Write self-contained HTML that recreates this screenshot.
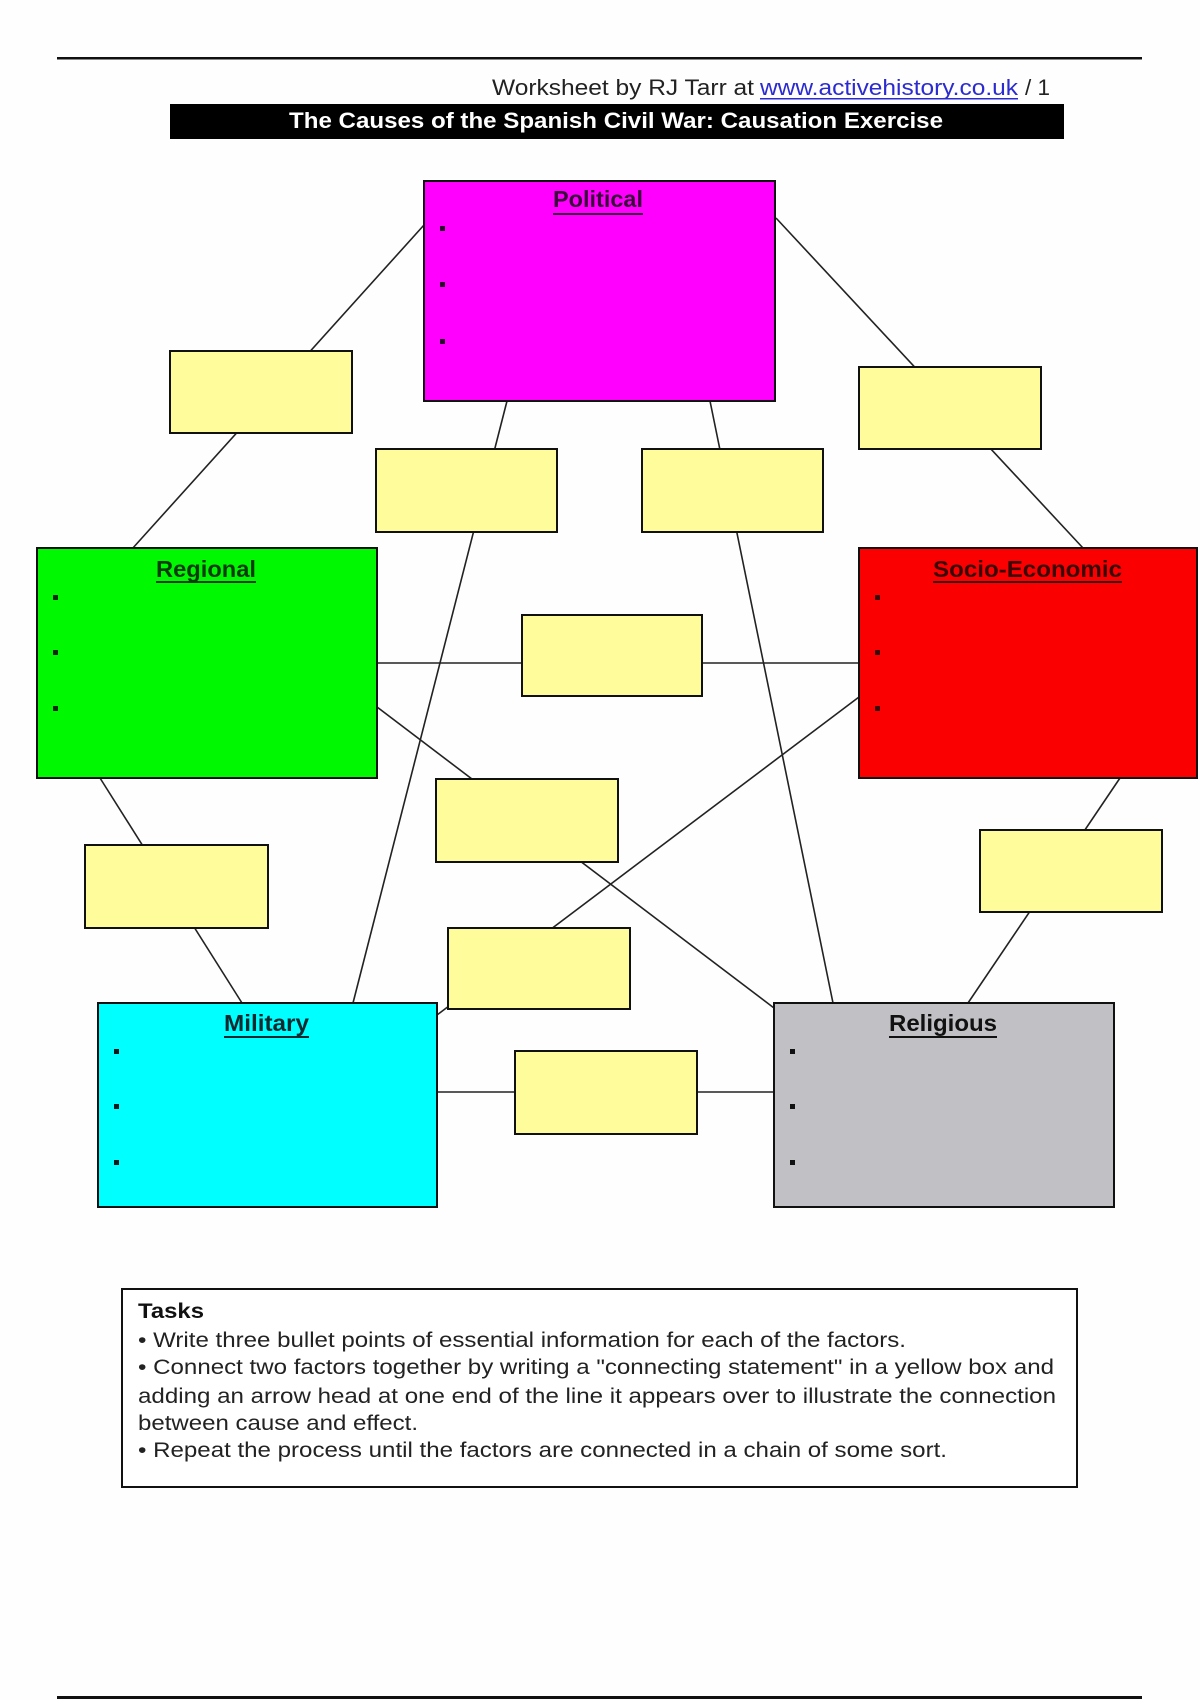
<!DOCTYPE html>
<html>
<head>
<meta charset="utf-8">
<style>
html,body{margin:0;padding:0;background:#fff;}
body{width:1200px;height:1700px;overflow:hidden;}
svg{display:block;}
text{font-family:"Liberation Sans",Arial,sans-serif;}
</style>
</head>
<body>
<svg width="1200" height="1700" viewBox="0 0 1200 1700" xmlns="http://www.w3.org/2000/svg">
<rect x="0" y="0" width="1200" height="1700" fill="#fefefe"/>
<!-- top and bottom rules -->
<rect x="57" y="57" width="1085" height="2.5" fill="#111"/>
<rect x="57" y="1696" width="1085" height="3" fill="#111"/>

<!-- header -->
<text x="492" y="95" font-size="22" fill="#222" textLength="262" lengthAdjust="spacingAndGlyphs">Worksheet by RJ Tarr at</text>
<text x="760" y="95" font-size="22" fill="#2b2bcf" textLength="258" lengthAdjust="spacingAndGlyphs">www.activehistory.co.uk</text>
<rect x="760" y="98" width="258" height="1.5" fill="#2b2bcf"/>
<text x="1025" y="95" font-size="22" fill="#222" textLength="25" lengthAdjust="spacingAndGlyphs">/ 1</text>

<rect x="170" y="104" width="894" height="35" fill="#000"/>
<text x="289" y="128" font-size="22" font-weight="bold" fill="#fff" textLength="654" lengthAdjust="spacingAndGlyphs">The Causes of the Spanish Civil War: Causation Exercise</text>

<!-- connector lines -->
<g stroke="#222" stroke-width="1.6" fill="none">
<line x1="424" y1="225" x2="132" y2="549"/>
<line x1="776" y1="218" x2="1083" y2="548"/>
<line x1="507" y1="401" x2="353" y2="1003"/>
<line x1="710" y1="401" x2="833" y2="1003"/>
<line x1="377" y1="663" x2="859" y2="663"/>
<line x1="377" y1="707" x2="774" y2="1008"/>
<line x1="859" y1="697" x2="437" y2="1015"/>
<line x1="100" y1="778" x2="242" y2="1003"/>
<line x1="1120" y1="778" x2="968" y2="1003"/>
<line x1="437" y1="1092" x2="774" y2="1092"/>
</g>

<!-- factor boxes -->
<g stroke="#111" stroke-width="2">
<rect x="424" y="181" width="351" height="220" fill="#ff00ff"/>
<rect x="37" y="548" width="340" height="230" fill="#00f800"/>
<rect x="859" y="548" width="338" height="230" fill="#fa0000"/>
<rect x="98" y="1003" width="339" height="204" fill="#00ffff"/>
<rect x="774" y="1003" width="340" height="204" fill="#c1c0c4"/>
</g>

<!-- yellow boxes -->
<g stroke="#111" stroke-width="2" fill="#fffd9b">
<rect x="170" y="351" width="182" height="82"/>
<rect x="376" y="449" width="181" height="83"/>
<rect x="642" y="449" width="181" height="83"/>
<rect x="859" y="367" width="182" height="82"/>
<rect x="522" y="615" width="180" height="81"/>
<rect x="436" y="779" width="182" height="83"/>
<rect x="85" y="845" width="183" height="83"/>
<rect x="980" y="830" width="182" height="82"/>
<rect x="448" y="928" width="182" height="81"/>
<rect x="515" y="1051" width="182" height="83"/>
</g>

<!-- titles -->
<g font-size="23" font-weight="bold">
<text x="553" y="207" fill="#3a0a3a" textLength="90" lengthAdjust="spacingAndGlyphs">Political</text>
<rect x="553" y="213" width="90" height="2" fill="#3a0a3a"/>
<text x="156" y="577" fill="#0b3b0b" textLength="100" lengthAdjust="spacingAndGlyphs">Regional</text>
<rect x="156" y="581" width="100" height="2" fill="#0b3b0b"/>
<text x="933" y="577" fill="#3a0808" textLength="189" lengthAdjust="spacingAndGlyphs">Socio-Economic</text>
<rect x="933" y="581" width="189" height="2" fill="#3a0808"/>
<text x="224" y="1031" fill="#0a2a30" textLength="85" lengthAdjust="spacingAndGlyphs">Military</text>
<rect x="224" y="1036" width="85" height="2" fill="#0a2a30"/>
<text x="889" y="1031" fill="#111" textLength="108" lengthAdjust="spacingAndGlyphs">Religious</text>
<rect x="889" y="1036" width="108" height="2" fill="#111"/>
</g>

<!-- bullets -->
<g fill="#2a0a2a">
<rect x="440" y="226" width="5" height="5"/>
<rect x="440" y="282" width="5" height="5"/>
<rect x="440" y="339" width="5" height="5"/>
</g>
<g fill="#0a2a0a">
<rect x="53" y="595" width="5" height="5"/>
<rect x="53" y="650" width="5" height="5"/>
<rect x="53" y="706" width="5" height="5"/>
</g>
<g fill="#3a0a0a">
<rect x="875" y="595" width="5" height="5"/>
<rect x="875" y="650" width="5" height="5"/>
<rect x="875" y="706" width="5" height="5"/>
</g>
<g fill="#0a1a1a">
<rect x="114" y="1049" width="5" height="5"/>
<rect x="114" y="1104" width="5" height="5"/>
<rect x="114" y="1160" width="5" height="5"/>
</g>
<g fill="#111">
<rect x="790" y="1049" width="5" height="5"/>
<rect x="790" y="1104" width="5" height="5"/>
<rect x="790" y="1160" width="5" height="5"/>
</g>

<!-- tasks box -->
<rect x="122" y="1289" width="955" height="198" fill="#fff" stroke="#111" stroke-width="2"/>
<text x="138" y="1318" font-size="21" font-weight="bold" fill="#111" textLength="66" lengthAdjust="spacingAndGlyphs">Tasks</text>
<g font-size="21" fill="#222">
<text x="138" y="1347" textLength="768" lengthAdjust="spacingAndGlyphs">• Write three bullet points of essential information for each of the factors.</text>
<text x="138" y="1374" textLength="916" lengthAdjust="spacingAndGlyphs">• Connect two factors together by writing a "connecting statement" in a yellow box and</text>
<text x="138" y="1403" textLength="918" lengthAdjust="spacingAndGlyphs">adding an arrow head at one end of the line it appears over to illustrate the connection</text>
<text x="138" y="1430" textLength="280" lengthAdjust="spacingAndGlyphs">between cause and effect.</text>
<text x="138" y="1457" textLength="809" lengthAdjust="spacingAndGlyphs">• Repeat the process until the factors are connected in a chain of some sort.</text>
</g>
</svg>
</body>
</html>
